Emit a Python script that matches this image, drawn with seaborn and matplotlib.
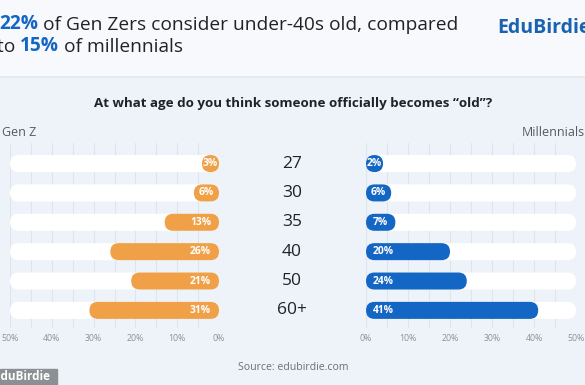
import numpy as np
import pandas as pd
import seaborn as sns
import matplotlib.pyplot as plt
from matplotlib.patches import FancyBboxPatch, Rectangle
from matplotlib.lines import Line2D
from matplotlib.ticker import FixedLocator, MultipleLocator, FuncFormatter
from matplotlib.transforms import blended_transform_factory

# data
ages = ["27", "30", "35", "40", "50", "60+"]
gen_z = [3, 6, 13, 26, 21, 31]
millennials = [2, 6, 7, 20, 24, 41]
scale_max = 50
tick_values = [0, 10, 20, 30, 40, 50]

ORANGE = "#f0a046"
BLUE = "#1466c4"
BG = "#edf3f9"
HEADER = "#f7f9fc"
DARK = "#1f2328"

sns.set_style("white")
plt.rcParams["font.family"] = ["Open Sans", "DejaVu Sans"]

W, H = 585, 385
fig = plt.figure(figsize=(5.85, 3.85), dpi=100)
fig.patch.set_facecolor(BG)


def fig_box(x0, y0, x1, y1):
    # pixel box (from top-left) -> figure fraction rect
    return [x0 / W, 1 - y1 / H, (x1 - x0) / W, (y1 - y0) / H]


# header band
fig.add_artist(Rectangle((0, 1 - 77 / H), 1, 77 / H, transform=fig.transFigure,
                         color=HEADER, zorder=0))
fig.add_artist(Line2D([0, 1], [1 - 77 / H] * 2, transform=fig.transFigure,
                      color="#e1e8f0", lw=1.2, zorder=0))

df = pd.DataFrame({"age": ages, "Gen Z": gen_z, "Millennials": millennials})
df["track"] = scale_max

ax_l = fig.add_axes(fig_box(10, 143, 219, 328))
ax_r = fig.add_axes(fig_box(366, 143, 576, 328))


def round_bars(ax):
    o = ax.transData.transform((0, 0))
    sx = abs(ax.transData.transform((1, 0))[0] - o[0])
    sy = abs(ax.transData.transform((0, 1))[1] - o[1])
    widths = []
    for p in list(ax.patches):
        x, y, w, h = p.get_x(), p.get_y(), p.get_width(), p.get_height()
        r = h * sy / 2 / sx
        w = max(w, 2 * r)
        fb = FancyBboxPatch((x, y), w, h,
                            boxstyle=f"round,pad=0,rounding_size={r}",
                            mutation_aspect=h / (2 * r),
                            facecolor=p.get_facecolor(), edgecolor="none",
                            zorder=p.get_zorder(), clip_on=False)
        p.remove()
        ax.add_patch(fb)
        widths.append(w)
    return widths


def draw_panel(ax, col, color, left):
    sns.barplot(data=df, x="track", y="age", orient="h", color="white",
                saturation=1, width=0.58, errorbar=None, ax=ax)
    sns.barplot(data=df, x=col, y="age", orient="h", color=color,
                saturation=1, width=0.58, errorbar=None, ax=ax)
    if left:
        ax.set_xlim(scale_max, 0)
    else:
        ax.set_xlim(0, scale_max)
    ax.set_ylim(len(ages) - 0.4, -0.7)
    widths = round_bars(ax)
    bar_w = widths[len(ages):]
    for i, v in enumerate(df[col]):
        if v < 10:
            x, ha = bar_w[i] / 2, "center"
        else:
            x, ha = (1.9, "right") if left else (1.7, "left")
        ax.text(x, i, f"{v}%", ha=ha, va="center", color="white",
                fontsize=7.4, fontweight="bold", zorder=5)
    ax.set_facecolor("none")
    for s in ax.spines.values():
        s.set_visible(False)
    ax.xaxis.set_major_locator(FixedLocator(tick_values))
    ax.xaxis.set_minor_locator(MultipleLocator(5))
    ax.xaxis.set_major_formatter(FuncFormatter(lambda v, p: f"{v:.0f}%"))
    ax.grid(axis="x", which="both", color="#dce4ed", lw=0.8)
    ax.set_axisbelow(True)
    ax.tick_params(axis="x", which="both", length=0, labelsize=6.3,
                   labelcolor="#8c929b", pad=4)
    ax.tick_params(axis="y", left=False, labelleft=False)
    ax.set_xlabel("")
    ax.set_ylabel("")


draw_panel(ax_l, "Gen Z", ORANGE, True)
draw_panel(ax_r, "Millennials", BLUE, False)

# age labels in the middle
tr = blended_transform_factory(fig.transFigure, ax_l.transData)
for i, a in enumerate(ages):
    fig.text(292 / W, i, a, transform=tr, ha="center", va="center",
             fontsize=12.5, color=DARK)

# overlay axes for headline text
ov = fig.add_axes([0, 0, 1, 1])
ov.axis("off")
ov.set_zorder(10)

TS = 13.8
t = ov.text(-1 / W, 1 - 24 / H, "22%", transform=fig.transFigure, color=BLUE,
            fontweight="bold", fontsize=TS, va="center")
ov.annotate(" of Gen Zers consider under-40s old, compared", xy=(1, 0),
            xycoords=t, va="bottom", fontsize=TS, color=DARK)
t = ov.text(-3 / W, 1 - 47 / H, "to ", transform=fig.transFigure, color=DARK,
            fontsize=TS, va="center")
t = ov.annotate("15%", xy=(1, 0), xycoords=t, va="bottom", fontsize=TS,
                color=BLUE, fontweight="bold")
ov.annotate(" of millennials", xy=(1, 0), xycoords=t, va="bottom",
            fontsize=TS, color=DARK)

ov.text(497 / W, 1 - 28 / H, "EduBirdie", transform=fig.transFigure,
        color="#1a63b0", fontsize=14, fontweight="bold", va="center")

ov.text(293 / W, 1 - 104 / H, "At what age do you think someone officially becomes \u201cold\u201d?",
        transform=fig.transFigure, ha="center", va="center", fontsize=9.6,
        fontweight="bold", color=DARK)
ov.text(2 / W, 1 - 132 / H, "Gen Z", transform=fig.transFigure, ha="left",
        va="center", fontsize=9, color="#555a60")
ov.text(585 / W, 1 - 132 / H, "Millennials", transform=fig.transFigure,
        ha="right", va="center", fontsize=9, color="#555a60")
ov.text(293 / W, 1 - 367 / H, "Source: edubirdie.com", transform=fig.transFigure,
        ha="center", va="center", fontsize=7.6, color="#6b7078")

# watermark box bottom-left
ov.add_artist(Rectangle((0, 0), 57 / W, 16 / H, transform=fig.transFigure,
                        color="#8b9095", zorder=1))
ov.text(-6 / W, 8 / H, "EduBirdie", transform=fig.transFigure, ha="left",
        va="center", fontsize=8.5, fontweight="bold", color="white", zorder=2)

fig.savefig("out.png", dpi=100, facecolor=BG)
